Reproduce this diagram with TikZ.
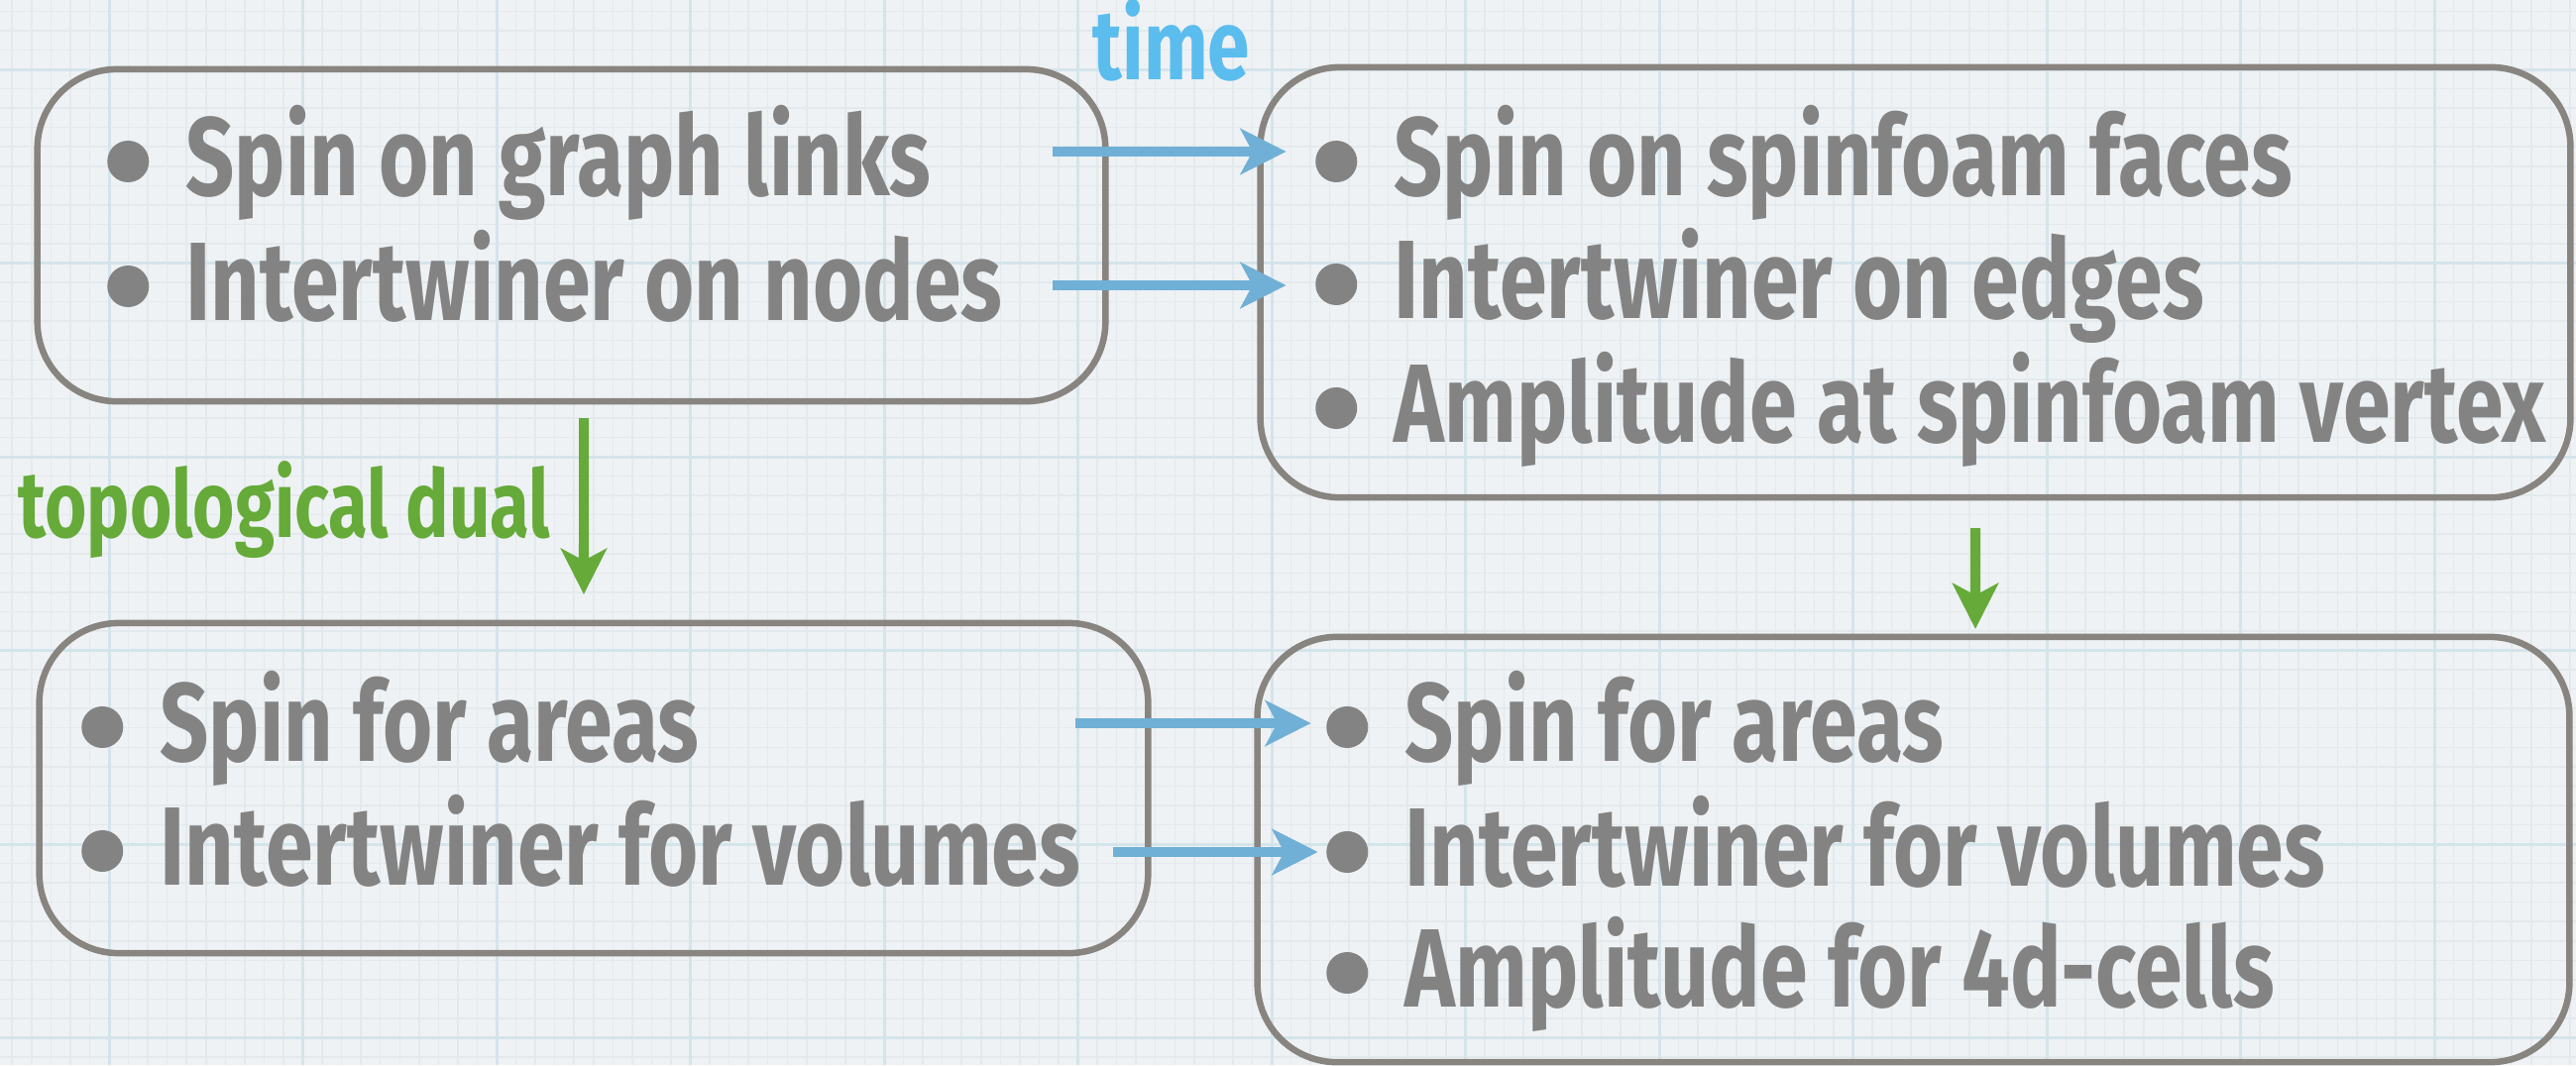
\documentclass[tikz,border=0pt]{standalone}
\usepackage{fontspec}
\newfontfamily\handfont{Fira Sans}[FakeStretch=0.765]
\usepackage{tikz}
\usetikzlibrary{arrows.meta, calc}

\definecolor{paper}{HTML}{EFF2F4}
\definecolor{minorgrid}{HTML}{E3E9EC}
\definecolor{majorgrid}{HTML}{D4E4EB}
\definecolor{inkgrey}{HTML}{838383}
\definecolor{rimgrey}{HTML}{888480}
\definecolor{timeblue}{HTML}{5BBCEE}
\definecolor{arrowblue}{HTML}{70B0D6}
\definecolor{dualgreen}{HTML}{66AA3A}

\tikzset{
  panel/.style={draw=rimgrey, line width=0.065cm, rounded corners=0.8cm, inner sep=0pt, outer sep=0pt},
  entry/.style={anchor=base west, inner sep=0pt, text=inkgrey,
    font=\handfont\bfseries\fontsize{32}{36}\selectfont,
    text height=0.8cm, text depth=0.12cm, label={[bulletdot]left:{}}},
  bulletdot/.style={circle, fill=inkgrey, minimum size=0.42cm, inner sep=0pt, label distance=0.36cm},
  timearrow/.style={draw=arrowblue, line width=0.1cm, -{Stealth[length=0.46cm, width=0.46cm, inset=0.12cm]}},
  dualarrow/.style={timearrow, draw=dualgreen}
}

\begin{document}
\begin{tikzpicture}[x=0.01cm, y=-0.01cm]
\useasboundingbox (0,0) rectangle (2599,1075);
% Graph paper
\fill[paper] (0,0) rectangle (2599,1075);
\foreach \gx in {12.25,31.8,...,2599} \draw[minorgrid, line width=0.015cm] (\gx,0) -- (\gx,1075);
\foreach \gy in {11.35,30.9,...,1075} \draw[minorgrid, line width=0.015cm] (0,\gy) -- (2599,\gy);
\foreach \gx in {110,305.5,...,2599} \draw[majorgrid, line width=0.03cm] (\gx,0) -- (\gx,1075);
\foreach \gy in {70,265.5,...,1075} \draw[majorgrid, line width=0.03cm] (0,\gy) -- (2599,\gy);

% Boxes
\node[panel, minimum width=10.77cm, minimum height=3.35cm] (graph) at (576.5,237.5) {};
\node[panel, minimum width=13.21cm, minimum height=4.34cm] (foam) at (1932.5,285) {};
\node[panel, minimum width=11.18cm, minimum height=3.33cm] (dualgraph) at (599,795.5) {};
\node[panel, minimum width=13.23cm, minimum height=4.29cm] (dualfoam) at (1930.5,857.5) {};

% Spin network
\node[entry] (gl1) at (187,197) {Spin on graph links};
\node[entry] (gl2) at (187,323) {Intertwiner on nodes};
% Spinfoam
\node[entry] (sf1) at (1406,197) {Spin on spinfoam faces};
\node[entry] (sf2) at (1406,321) {Intertwiner on edges};
\node[entry] (sf3) at (1406,446) {Amplitude at spinfoam vertex};
% Dual pictures
\node[entry] (dg1) at (161,768) {Spin for areas};
\node[entry] (dg2) at (161,893) {Intertwiner for volumes};
\node[entry] (df1) at (1417,768) {Spin for areas};
\node[entry] (df2) at (1417,894) {Intertwiner for volumes};
\node[entry] (df3) at (1417,1016) {Amplitude for 4d-cells};

% Time evolution
\node[text=timeblue, font=\handfont\bfseries\fontsize{28.5}{34}\selectfont, anchor=base] (time) at (1182,80) {time};
\coordinate (t1) at (1062,153);
\coordinate (t2) at (1062,288);
\coordinate (t3) at (1085,730);
\coordinate (t4) at (1123,860);
\draw[timearrow] (t1) -- ($(t1 -| foam.west)+(26,0)$);
\draw[timearrow] (t2) -- ($(t2 -| foam.west)+(26,0)$);
\draw[timearrow] (t3) -- ($(t3 -| dualfoam.west)+(54,0)$);
\draw[timearrow] (t4) -- ($(t4 -| dualfoam.west)+(61,0)$);

% Duality
\node[text=dualgreen, font=\handfont\bfseries\fontsize{27}{32}\selectfont, anchor=base west, inner sep=0pt] (dual) at (18,542) {topological dual};
\draw[dualarrow] ([xshift=0.125cm, yshift=-0.17cm]graph.south) -- ([xshift=-0.1cm, yshift=0.29cm]dualgraph.north);
\draw[dualarrow] ([xshift=0.605cm, yshift=-0.31cm]foam.south) -- ([xshift=0.625cm, yshift=0.08cm]dualfoam.north);
\end{tikzpicture}
\end{document}
